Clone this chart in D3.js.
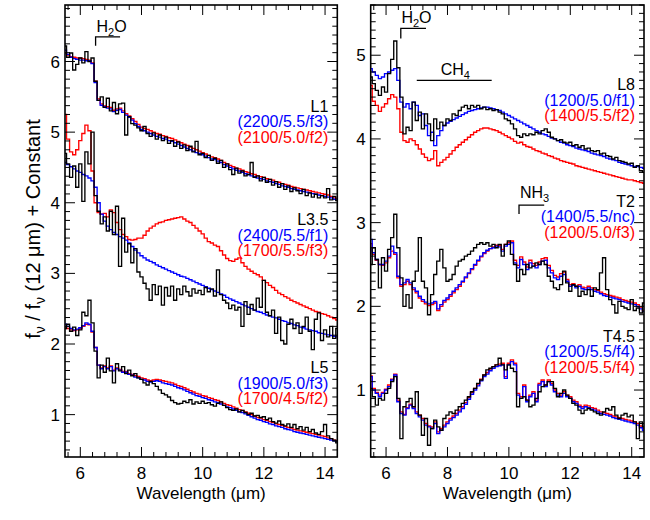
<!DOCTYPE html>
<html><head><meta charset="utf-8">
<script src="https://cdn.jsdelivr.net/npm/d3@7"></script>
<style>body{margin:0;background:#fff}svg{display:block}text{font-family:"Liberation Sans",Arial,Helvetica,sans-serif}</style>
</head><body><svg id="c" width="650" height="520"></svg>
<script>
const wavelength = [5.5,5.6,5.7,5.8,5.9,
6.0,6.1,6.2,6.3,6.4,6.5,6.6,6.7,6.8,6.9,
7.0,7.1,7.2,7.3,7.4,7.5,7.6,7.7,7.8,7.9,
8.0,8.1,8.2,8.3,8.4,8.5,8.6,8.7,8.8,8.9,
9.0,9.1,9.2,9.3,9.4,9.5,9.6,9.7,9.8,9.9,
10.0,10.1,10.2,10.3,10.4,10.5,10.6,10.7,10.8,10.9,
11.0,11.1,11.2,11.3,11.4,11.5,11.6,11.7,11.8,11.9,
12.0,12.1,12.2,12.3,12.4,12.5,12.6,12.7,12.8,12.9,
13.0,13.1,13.2,13.3,13.4,13.5,13.6,13.7,13.8,13.9,
14.0,14.1,14.2,14.3,14.4];

// ---- Left panel ----
const L1_obs = [6.22,6.06,6.12,5.88,5.96,
6.05,5.98,6.14,6.00,6.05,5.72,5.45,5.50,5.35,5.48,
5.30,5.42,5.26,5.40,5.41,4.96,5.22,5.12,5.10,5.06,
5.02,5.08,4.98,4.94,4.99,4.90,4.96,4.88,4.93,4.84,
4.88,4.80,4.86,4.77,4.82,4.74,4.80,4.72,4.87,4.68,
4.70,4.64,4.67,4.60,4.63,4.56,4.60,4.50,4.55,4.47,
4.40,4.49,4.42,4.45,4.38,4.40,4.57,4.36,4.38,4.31,
4.36,4.29,4.33,4.25,4.30,4.22,4.27,4.19,4.24,4.16,
4.21,4.17,4.13,4.19,4.10,4.14,4.08,4.12,4.07,4.10,
4.07,4.20,4.04,4.09,4.03];
const L1_blue = [6.16,6.10,6.06,6.04,6.03,
6.02,6.02,6.01,6.01,5.97,5.70,5.45,5.38,5.36,5.34,
5.33,5.29,5.31,5.32,5.28,5.24,5.21,5.17,5.12,5.08,
5.04,5.02,5.00,4.98,4.96,4.94,4.93,4.91,4.90,4.88,
4.87,4.85,4.83,4.81,4.79,4.77,4.75,4.73,4.71,4.70,
4.68,4.66,4.64,4.62,4.61,4.59,4.57,4.54,4.52,4.50,
4.48,4.46,4.45,4.43,4.41,4.40,4.38,4.37,4.35,4.34,
4.33,4.31,4.30,4.29,4.27,4.26,4.24,4.23,4.22,4.20,
4.19,4.18,4.17,4.16,4.15,4.14,4.13,4.12,4.11,4.10,
4.09,4.08,4.07,4.05,4.04];
const L1_red = [6.12,6.09,6.07,6.06,6.05,
6.05,6.04,6.03,6.02,5.98,5.72,5.47,5.40,5.37,5.36,
5.35,5.31,5.33,5.34,5.30,5.26,5.23,5.19,5.15,5.11,
5.07,5.05,5.04,5.02,5.00,4.98,4.97,4.95,4.94,4.92,
4.91,4.89,4.87,4.85,4.83,4.81,4.79,4.77,4.75,4.73,
4.71,4.69,4.67,4.65,4.64,4.62,4.60,4.57,4.55,4.53,
4.51,4.49,4.48,4.46,4.44,4.43,4.41,4.40,4.38,4.37,
4.36,4.34,4.33,4.32,4.30,4.29,4.27,4.26,4.25,4.23,
4.22,4.21,4.20,4.19,4.18,4.17,4.16,4.15,4.14,4.13,
4.12,4.11,4.09,4.07,4.06];

const L35_obs = [4.70,4.55,4.36,4.52,4.22,
4.55,4.02,4.72,4.55,5.00,4.10,3.88,3.70,3.80,3.60,
3.88,3.55,3.95,3.10,3.78,3.30,3.42,3.15,3.35,3.02,
2.95,2.86,2.78,2.62,2.84,2.70,2.82,2.55,2.80,2.68,
2.82,2.62,2.78,2.70,2.82,2.74,2.68,2.78,2.72,2.76,
2.70,2.80,2.74,2.78,2.68,3.05,2.70,2.62,2.58,2.50,
2.55,2.48,2.52,2.25,2.60,2.42,2.56,2.48,2.65,2.52,
2.90,2.45,2.40,2.48,2.15,2.38,2.05,2.00,2.28,2.35,
2.22,2.30,2.15,2.25,2.38,2.18,1.92,2.35,2.44,2.05,
2.20,2.10,2.25,2.08,2.22];
const L35_blue = [4.57,4.54,4.51,4.48,4.45,
4.43,4.40,4.38,4.35,4.31,4.22,4.00,3.84,3.74,3.67,
3.62,3.58,3.55,3.52,3.50,3.47,3.43,3.38,3.33,3.29,
3.25,3.22,3.19,3.17,3.15,3.12,3.10,3.08,3.06,3.04,
3.02,3.00,2.98,2.96,2.95,2.93,2.91,2.89,2.87,2.85,
2.83,2.81,2.79,2.77,2.75,2.73,2.71,2.69,2.66,2.64,
2.62,2.60,2.58,2.56,2.54,2.52,2.50,2.48,2.46,2.45,
2.43,2.41,2.40,2.38,2.37,2.35,2.33,2.32,2.30,2.29,
2.27,2.26,2.24,2.23,2.21,2.20,2.19,2.18,2.16,2.15,
2.14,2.13,2.12,2.11,2.10];
const L35_red = [5.25,4.90,4.72,4.68,4.75,
4.88,4.98,5.10,5.02,4.45,4.00,3.86,3.84,3.85,3.80,
3.90,3.86,3.72,3.62,3.55,3.52,3.48,3.47,3.48,3.50,
3.50,3.54,3.60,3.64,3.67,3.70,3.72,3.73,3.75,3.76,
3.77,3.78,3.79,3.80,3.77,3.74,3.72,3.68,3.64,3.60,
3.56,3.50,3.45,3.43,3.40,3.38,3.32,3.26,3.21,3.18,
3.17,3.20,3.22,3.15,3.10,3.06,3.03,3.00,2.98,2.95,
2.90,2.87,2.83,2.80,2.76,2.72,2.70,2.67,2.65,2.62,
2.60,2.58,2.56,2.54,2.52,2.50,2.48,2.46,2.45,2.43,
2.42,2.40,2.38,2.36,2.34];

const L5_obs = [2.22,2.28,2.18,2.24,2.12,
2.20,2.45,2.40,2.62,2.30,1.90,1.52,1.70,1.60,1.80,
1.62,1.45,1.72,1.62,1.68,1.58,1.63,1.55,1.58,1.52,
1.50,1.45,1.42,1.47,1.44,1.40,1.35,1.30,1.28,1.25,
1.20,1.17,1.15,1.16,1.19,1.17,1.21,1.15,1.18,1.16,
1.19,1.16,1.17,1.14,1.12,1.16,1.18,1.13,1.10,1.07,
1.06,1.08,1.04,1.06,1.03,1.00,1.02,0.98,0.99,0.96,
0.97,0.93,0.95,0.90,0.88,0.91,0.86,0.84,0.87,0.82,
0.86,0.80,0.83,0.78,0.82,0.76,0.79,0.74,0.72,0.76,
0.86,0.70,0.66,0.64,0.60];
const L5_blue = [2.28,2.25,2.22,2.20,2.21,
2.23,2.26,2.30,2.28,2.18,1.95,1.70,1.65,1.68,1.65,
1.68,1.62,1.65,1.63,1.60,1.60,1.57,1.56,1.53,1.52,
1.50,1.49,1.47,1.46,1.47,1.48,1.47,1.45,1.44,1.43,
1.42,1.40,1.38,1.37,1.35,1.33,1.31,1.29,1.27,1.26,
1.24,1.23,1.21,1.20,1.18,1.17,1.15,1.13,1.11,1.10,
1.08,1.06,1.04,1.03,1.01,0.99,0.97,0.95,0.93,0.92,
0.90,0.89,0.87,0.86,0.84,0.83,0.82,0.80,0.79,0.78,
0.76,0.75,0.74,0.73,0.72,0.71,0.70,0.69,0.68,0.67,
0.66,0.65,0.64,0.63,0.62];
const L5_red = [2.24,2.22,2.20,2.19,2.20,
2.22,2.25,2.28,2.27,2.17,1.95,1.70,1.66,1.69,1.66,
1.69,1.63,1.66,1.64,1.61,1.61,1.58,1.57,1.55,1.54,
1.52,1.51,1.49,1.48,1.49,1.50,1.49,1.48,1.47,1.46,
1.45,1.43,1.41,1.40,1.38,1.36,1.34,1.32,1.30,1.29,
1.27,1.26,1.24,1.23,1.21,1.20,1.18,1.16,1.14,1.13,
1.11,1.09,1.07,1.06,1.04,1.02,1.00,0.98,0.96,0.95,
0.93,0.92,0.90,0.89,0.87,0.86,0.85,0.83,0.82,0.81,
0.79,0.78,0.77,0.76,0.75,0.74,0.73,0.72,0.71,0.70,
0.69,0.67,0.66,0.64,0.63];

// ---- Right panel ----
const L8_obs = [4.74,4.66,4.58,4.52,4.62,
4.56,4.78,4.95,5.17,4.85,4.50,4.06,4.14,4.10,4.44,
4.22,4.32,4.12,4.30,4.18,3.98,4.24,4.12,4.20,4.16,
4.24,4.22,4.30,4.28,4.34,4.38,4.40,4.36,4.40,4.38,
4.40,4.36,4.38,4.35,4.36,4.34,4.35,4.32,4.30,4.24,
4.22,4.18,4.12,4.04,4.02,4.06,4.04,4.06,4.05,4.08,
4.06,4.10,4.12,4.08,4.02,4.00,3.98,3.99,3.96,3.95,
3.96,3.92,3.93,3.90,3.92,3.88,3.89,3.86,3.85,3.86,
3.82,3.83,3.80,3.79,3.76,3.78,3.74,3.73,3.72,3.70,
3.71,3.66,3.68,3.62,3.60];
const L8_blue = [4.84,4.80,4.76,4.72,4.74,
4.78,4.80,4.82,4.84,4.70,4.44,4.38,4.42,4.36,4.44,
4.40,4.28,4.30,4.16,4.04,4.08,3.92,4.04,4.10,4.16,
4.19,4.21,4.23,4.25,4.27,4.29,4.31,4.33,4.34,4.35,
4.36,4.37,4.38,4.38,4.37,4.36,4.35,4.34,4.32,4.30,
4.28,4.26,4.24,4.22,4.20,4.18,4.16,4.14,4.12,4.10,
4.08,4.06,4.05,4.03,4.01,4.00,3.98,3.96,3.95,3.93,
3.92,3.91,3.89,3.88,3.87,3.86,3.85,3.83,3.82,3.81,
3.80,3.79,3.77,3.76,3.75,3.74,3.72,3.71,3.70,3.69,
3.68,3.67,3.67,3.66,3.65];
const L8_red = [4.64,4.45,4.40,4.33,4.38,
4.42,4.48,4.53,4.50,4.36,4.08,3.98,3.96,4.00,3.98,
3.93,3.88,3.82,3.78,3.74,3.76,3.86,3.68,3.72,3.75,
3.78,3.82,3.86,3.90,3.93,3.96,3.99,4.02,4.05,4.08,
4.10,4.12,4.13,4.13,4.12,4.11,4.10,4.08,4.06,4.04,
4.02,4.00,3.97,3.95,3.96,3.93,3.91,3.90,3.88,3.86,
3.85,3.83,3.82,3.80,3.79,3.77,3.76,3.74,3.73,3.72,
3.71,3.70,3.68,3.67,3.66,3.65,3.64,3.63,3.62,3.61,
3.60,3.59,3.58,3.57,3.56,3.55,3.54,3.53,3.52,3.51,
3.51,3.50,3.49,3.48,3.47];

const T2_obs = [2.50,2.70,2.56,2.22,2.58,
2.42,2.68,2.82,3.10,2.70,2.34,2.00,2.14,1.98,2.30,
2.42,2.82,2.30,2.22,1.90,2.14,2.38,2.54,2.68,2.46,
2.30,2.32,2.38,2.48,2.54,2.56,2.60,2.62,2.66,2.70,
2.74,2.76,2.74,2.76,2.72,2.74,2.70,2.74,2.60,2.74,
2.78,2.62,2.50,2.30,2.44,2.38,2.50,2.46,2.48,2.52,
2.50,2.54,2.50,2.36,2.30,2.22,2.20,2.26,2.42,2.28,
2.18,2.26,2.24,2.12,2.18,2.14,2.20,2.12,2.22,2.20,
2.40,2.58,2.20,2.08,2.02,1.92,2.06,2.00,1.98,1.96,
2.08,1.95,1.98,1.92,2.04];
const T2_blue = [2.80,2.64,2.56,2.50,2.50,
2.54,2.60,2.72,2.64,2.36,2.26,2.28,2.32,2.28,2.22,
2.18,2.12,2.08,2.05,2.03,2.04,2.06,1.97,2.02,2.07,
2.10,2.14,2.18,2.22,2.26,2.30,2.35,2.40,2.45,2.50,
2.55,2.60,2.64,2.67,2.69,2.70,2.72,2.71,2.66,2.72,
2.74,2.76,2.52,2.46,2.56,2.50,2.44,2.52,2.48,2.46,
2.50,2.54,2.55,2.46,2.40,2.34,2.32,2.36,2.38,2.30,
2.24,2.25,2.22,2.24,2.21,2.20,2.22,2.20,2.18,2.17,
2.15,2.13,2.12,2.11,2.10,2.09,2.08,2.06,2.05,2.04,
2.03,2.02,2.00,1.97,1.94];
const T2_red = [2.75,2.62,2.55,2.50,2.49,
2.52,2.58,2.66,2.62,2.34,2.24,2.26,2.30,2.26,2.20,
2.16,2.10,2.06,2.03,2.01,2.02,2.04,1.95,2.00,2.05,
2.08,2.12,2.16,2.20,2.24,2.29,2.34,2.39,2.44,2.49,
2.54,2.59,2.63,2.66,2.69,2.71,2.73,2.73,2.68,2.74,
2.76,2.78,2.55,2.49,2.59,2.53,2.47,2.55,2.51,2.49,
2.53,2.57,2.58,2.49,2.43,2.37,2.35,2.39,2.41,2.32,
2.26,2.27,2.24,2.26,2.23,2.22,2.24,2.22,2.20,2.19,
2.17,2.15,2.14,2.13,2.12,2.11,2.10,2.08,2.07,2.06,
2.05,2.04,2.02,1.99,1.95];

const T45_obs = [1.02,0.92,0.82,0.90,0.88,
0.96,1.02,1.10,1.16,0.90,0.42,0.80,0.86,0.90,0.80,
0.98,0.70,0.46,0.66,0.34,0.54,0.64,0.56,0.52,0.66,
0.70,0.74,0.72,0.76,0.80,0.84,0.88,0.92,0.98,1.02,
1.08,1.12,1.18,1.24,1.26,1.28,1.30,1.38,1.30,1.24,
1.30,1.26,1.22,0.80,0.90,0.92,0.88,0.80,0.82,0.90,
0.98,1.04,1.06,1.10,1.10,1.02,0.92,0.96,1.00,0.94,
0.90,0.84,0.82,0.76,0.72,0.76,0.78,0.76,0.74,0.72,
0.70,0.74,0.78,0.76,0.80,0.70,0.66,0.70,0.72,0.68,
0.70,0.62,0.42,0.62,0.56];
const T45_blue = [1.16,1.00,0.96,0.92,0.96,
1.00,1.04,1.12,1.18,0.86,0.72,0.70,0.78,0.82,0.78,
0.72,0.68,0.64,0.58,0.56,0.54,0.60,0.48,0.52,0.56,
0.60,0.64,0.67,0.70,0.74,0.78,0.83,0.89,0.95,1.00,
1.05,1.11,1.16,1.19,1.23,1.26,1.28,1.29,1.30,1.14,
1.30,1.34,1.30,0.94,0.90,1.04,0.86,0.92,0.96,0.86,
1.06,1.10,1.04,1.10,1.06,0.98,0.94,0.92,0.96,0.92,
0.90,0.86,0.84,0.80,0.78,0.80,0.79,0.77,0.76,0.74,
0.72,0.71,0.70,0.69,0.67,0.66,0.65,0.64,0.63,0.62,
0.61,0.60,0.58,0.55,0.52];
const T45_red = [1.17,1.02,0.97,0.94,0.97,
1.01,1.06,1.13,1.19,0.88,0.74,0.71,0.79,0.83,0.80,
0.74,0.70,0.66,0.60,0.57,0.56,0.62,0.50,0.54,0.58,
0.62,0.66,0.69,0.72,0.76,0.80,0.85,0.91,0.97,1.02,
1.07,1.13,1.18,1.21,1.25,1.28,1.30,1.31,1.32,1.16,
1.32,1.36,1.32,0.96,0.92,1.06,0.88,0.94,0.98,0.88,
1.08,1.12,1.06,1.12,1.08,1.00,0.96,0.94,0.98,0.94,
0.92,0.88,0.86,0.82,0.80,0.82,0.81,0.79,0.78,0.76,
0.74,0.73,0.72,0.71,0.69,0.68,0.67,0.66,0.65,0.64,
0.63,0.62,0.60,0.57,0.54];

const xTickLabels = [6, 8, 10, 12, 14];
const leftYTicks = [1, 2, 3, 4, 5, 6];
const rightYTicks = [1, 2, 3, 4, 5];

const leftLabels = [
  {lines: ["L1", "(2200/5.5/f3)", "(2100/5.0/f2)"]},
  {lines: ["L3.5", "(2400/5.5/f1)", "(1700/5.5/f3)"]},
  {lines: ["L5", "(1900/5.0/f3)", "(1700/4.5/f2)"]}
];
const rightLabels = [
  {lines: ["L8", "(1200/5.0/f1)", "(1400/5.5/f2)"]},
  {lines: ["T2", "(1400/5.5/nc)", "(1200/5.0/f3)"]},
  {lines: ["T4.5", "(1200/5.5/f4)", "(1200/5.5/f4)"]}
];

const COL = {obs: "#000000", blue: "#0000ff", red: "#ff0000"};
const FONT_TICK = 17, FONT_LAB = 16, FONT_YTITLE = 20;

const svg = d3.select("#c");
const TOP = 5, BOT = 457;

const panels = [
  {id: "L", left: 65, right: 337.3, yDomain: [0.4, 6.8], yTicks: leftYTicks, yMinor: 0.125,
   groups: [[L1_red, L1_blue, L1_obs], [L35_red, L35_blue, L35_obs], [L5_red, L5_blue, L5_obs]],
   labels: leftLabels, labelBase: [111.7, 225, 373]},
  {id: "R", left: 370.7, right: 644, yDomain: [0.2, 5.6], yTicks: rightYTicks, yMinor: 0.1,
   groups: [[L8_red, L8_blue, L8_obs], [T2_red, T2_blue, T2_obs], [T45_red, T45_blue, T45_obs]],
   labels: rightLabels, labelBase: [90, 206.7, 341.7]}
];

panels.forEach(p => {
  const x = d3.scaleLinear().domain([5.5, 14.4]).range([p.left, p.right]);
  const y = d3.scaleLinear().domain(p.yDomain).range([BOT, TOP]);
  p.x = x; p.y = y;
  const g = svg.append("g");
  const clipId = "clip" + p.id;
  svg.append("clipPath").attr("id", clipId).append("rect")
    .attr("x", p.left).attr("y", TOP).attr("width", p.right - p.left).attr("height", BOT - TOP);
  const line = d3.line().curve(d3.curveStep).x((d, i) => x(wavelength[i])).y(d => y(d));
  const cg = g.append("g").attr("clip-path", `url(#${clipId})`);
  p.groups.forEach(([r, b, o]) => {
    cg.append("path").attr("d", line(r)).attr("fill", "none").attr("stroke", COL.red).attr("stroke-width", 1.35);
    cg.append("path").attr("d", line(b)).attr("fill", "none").attr("stroke", COL.blue).attr("stroke-width", 1.35);
  });
  p.groups.forEach(([r, b, o]) => {
    cg.append("path").attr("d", line(o)).attr("fill", "none").attr("stroke", COL.obs).attr("stroke-width", 1.35);
  });
  // frame
  g.append("rect").attr("x", p.left).attr("y", TOP).attr("width", p.right - p.left).attr("height", BOT - TOP)
    .attr("fill", "none").attr("stroke", "#000").attr("stroke-width", 1.6);
  // x ticks (major + minor), bottom and top, inward
  const xMinor = d3.range(14, 37).map(k => +(k * 0.4).toFixed(1)).filter(v => v > 5.5 && v < 14.4);
  xMinor.forEach(v => {
    const major = xTickLabels.includes(v);
    const len = major ? 10 : 5;
    g.append("line").attr("x1", x(v)).attr("x2", x(v)).attr("y1", BOT).attr("y2", BOT - len).attr("stroke", "#000").attr("stroke-width", 1);
    g.append("line").attr("x1", x(v)).attr("x2", x(v)).attr("y1", TOP).attr("y2", TOP + len).attr("stroke", "#000").attr("stroke-width", 1);
  });
  xTickLabels.forEach(v => {
    g.append("text").attr("x", x(v)).attr("y", 478.5).attr("text-anchor", "middle").attr("font-size", FONT_TICK).text(v);
  });
  // y ticks
  const n0 = Math.ceil(p.yDomain[0] / p.yMinor - 1e-6), n1 = Math.floor(p.yDomain[1] / p.yMinor + 1e-6);
  d3.range(n0, n1 + 1).map(k => +(k * p.yMinor).toFixed(3)).forEach(v => {
    const major = p.yTicks.includes(v);
    const len = major ? 10 : 5;
    g.append("line").attr("x1", p.left).attr("x2", p.left + len).attr("y1", y(v)).attr("y2", y(v)).attr("stroke", "#000").attr("stroke-width", 1);
    g.append("line").attr("x1", p.right).attr("x2", p.right - len).attr("y1", y(v)).attr("y2", y(v)).attr("stroke", "#000").attr("stroke-width", 1);
  });
  p.yTicks.forEach(v => {
    g.append("text").attr("x", p.left - 5).attr("y", y(v)).attr("dy", "0.36em").attr("text-anchor", "end")
      .attr("font-size", FONT_TICK).text(v);
  });
  // axis title
  g.append("text").attr("x", (p.left + p.right) / 2).attr("y", 499).attr("text-anchor", "middle")
    .attr("font-size", FONT_TICK).text("Wavelength (\u03bcm)");
  // labels
  const cols = ["#000", COL.blue, COL.red];
  p.labels.forEach((lab, li) => {
    lab.lines.forEach((t, k) => {
      g.append("text").attr("x", p.right - 9).attr("y", p.labelBase[li] + k * 15.5)
        .attr("text-anchor", "end").attr("font-size", FONT_LAB).attr("fill", cols[k]).text(t);
    });
  });
});

// annotations
function bracket(p, x0, x1, yTop, drop) {
  const X0 = p.x(x0), X1 = p.x(x1), Y = p.y(yTop);
  svg.append("path").attr("d", `M${X0},${Y + drop}V${Y}H${X1}`).attr("fill", "none").attr("stroke", "#000").attr("stroke-width", 1.3);
}
function chem(p, xv, baseY, main, sub, tail) {
  const t = svg.append("text").attr("x", p.x(xv)).attr("y", baseY).attr("font-size", 16);
  t.append("tspan").text(main);
  t.append("tspan").attr("font-size", 11).attr("dy", 4).text(sub);
  if (tail) t.append("tspan").attr("dy", -4).text(tail);
}
const PL = panels[0], PR = panels[1];
bracket(PL, 6.5, 7.3, 6.35, 9);
chem(PL, 6.53, 31.5, "H", "2", "O");
bracket(PR, 6.48, 7.3, 5.32, 10);
chem(PR, 6.5, 22.5, "H", "2", "O");
svg.append("line").attr("x1", PR.x(7.0)).attr("x2", PR.x(9.44)).attr("y1", PR.y(4.70)).attr("y2", PR.y(4.70)).attr("stroke", "#000").attr("stroke-width", 1.3);
chem(PR, 7.78, 75, "CH", "4", "");
bracket(PR, 10.33, 11.15, 3.21, 9);
chem(PR, 10.36, 198, "NH", "3", "");

// y title
const yt = svg.append("text").attr("transform", "translate(40,229) rotate(-90)").attr("text-anchor", "middle").attr("font-size", FONT_YTITLE);
yt.append("tspan").text("f");
yt.append("tspan").attr("font-size", 14).attr("dy", 5).text("\u03bd");
yt.append("tspan").attr("dy", -5).text(" / f");
yt.append("tspan").attr("font-size", 14).attr("dy", 5).text("\u03bd");
yt.append("tspan").attr("dy", -5).text(" (12 \u03bcm) + Constant");
</script></body></html>
